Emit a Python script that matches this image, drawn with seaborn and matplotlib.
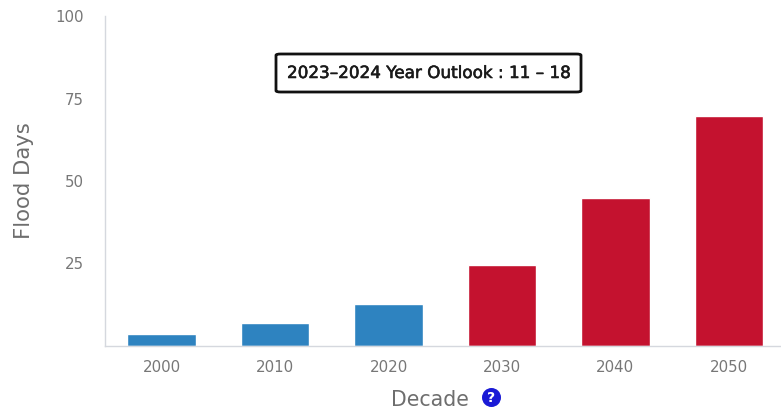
import matplotlib
matplotlib.use("Agg")
import matplotlib.pyplot as plt
import matplotlib.patheffects as pe
import pandas as pd
import seaborn as sns
from matplotlib.patches import FancyBboxPatch

decades = ["2000", "2010", "2020", "2030", "2040", "2050"]
flood_days = [3.6, 7, 12.8, 24.6, 45, 69.8]
bar_colors = ["#2e83c0", "#2e83c0", "#2e83c0", "#c4122f", "#c4122f", "#c4122f"]
y_ticks = [25, 50, 75, 100]
outlook_text = "2023\u20132024 Year Outlook : 11 \u2013 18"

W, H = 781, 419

sns.set_theme(style="white")
plt.rcParams["font.family"] = ["DejaVu Sans"]

df = pd.DataFrame({"decade": decades, "days": flood_days})

fig = plt.figure(figsize=(W / 100, H / 100), dpi=100)
ax = fig.add_axes([105 / W, 1 - 345.8 / H, (W - 105) / W, (345.8 - 16.5) / H])

sns.barplot(data=df, x="decade", y="days", hue="decade", palette=bar_colors,
            legend=False, width=0.605, saturation=1, ax=ax)

ax.set_xlim(-0.5, 5.46)
ax.set_ylim(0, 100)
ax.set_yticks(y_ticks)
ax.tick_params(axis="x", length=0, labelsize=10.8, labelcolor="#777777", pad=10)
ax.tick_params(axis="y", length=0, labelsize=10.8, labelcolor="#777777", pad=15)

ax.set_xlabel("")
ax.set_ylabel("")
sns.despine(ax=ax)
for side in ("left", "bottom"):
    ax.spines[side].set_color("#d5d8de")
    ax.spines[side].set_linewidth(1)

fig.text(23.5 / W, 1 - 181 / H, "Flood Days", rotation=90, ha="center", va="center",
         fontsize=15.2, color="#6e6e6e")
fig.text(429.5 / W, 1 - 400 / H, "Decade", ha="center", va="center",
         fontsize=14.8, color="#6e6e6e")
fig.text(491.5 / W, 1 - 397.5 / H, "?", ha="center", va="center", fontsize=10,
         fontweight="bold", color="white",
         bbox=dict(boxstyle="circle,pad=0.18", facecolor="#1a1ad6", edgecolor="none"))

box = FancyBboxPatch((276 / W, 1 - 92 / H), 305 / W, 38 / H, transform=fig.transFigure,
                     boxstyle="round,pad=0,rounding_size=0.006", mutation_aspect=H / W,
                     facecolor="white", edgecolor="#111111", linewidth=2)
fig.add_artist(box)
fig.text(428.5 / W, 1 - 73 / H, outlook_text, ha="center", va="center",
         fontsize=12.1, color="#1a1a1a",
         path_effects=[pe.withStroke(linewidth=0.4, foreground="#1a1a1a")])

fig.savefig("out.png", dpi=100)
